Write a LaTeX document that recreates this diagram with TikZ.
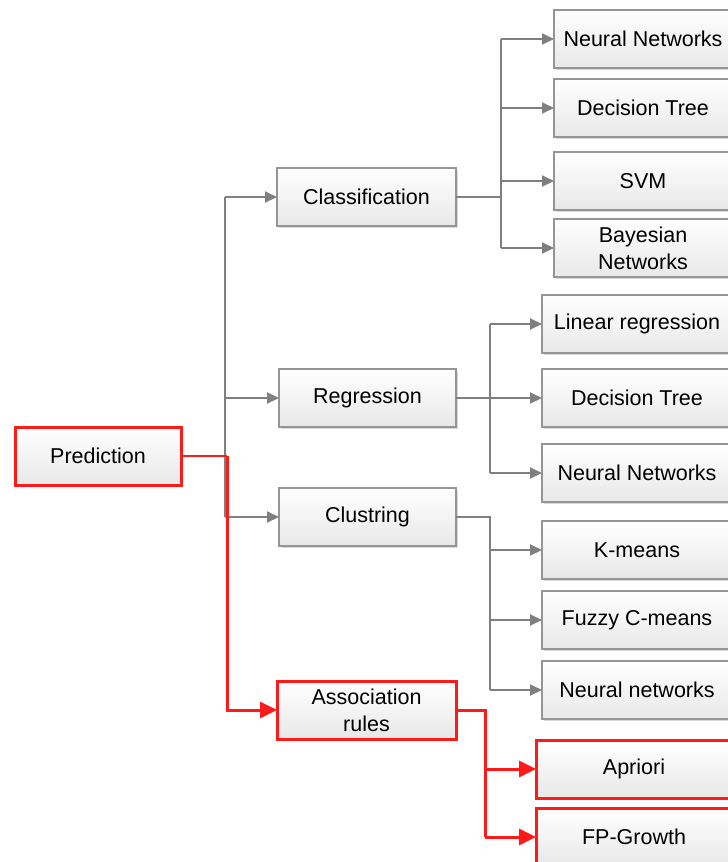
\documentclass[tikz,border=0pt]{standalone}
\usepackage{fontspec}
\setmainfont{Liberation Sans}
\usetikzlibrary{arrows.meta,shadows}
\definecolor{bordergray}{HTML}{959595}
\definecolor{linegray}{HTML}{7F7F7F}
\definecolor{myred}{HTML}{FF1A1A}
\begin{document}
\begin{tikzpicture}[x=1pt,y=-1pt,
  box/.style={draw=bordergray, line width=2pt, top color=white, bottom color=black!9,
    anchor=north west, outer sep=0pt, minimum height=58pt, inner sep=2pt, align=center,
    font=\fontsize{21.5}{27}\selectfont,
    drop shadow={shadow xshift=2pt, shadow yshift=-2pt, fill=black!25, opacity=0.6}},
  redbox/.style={box, draw=myred, line width=3pt},
  gline/.style={draw=linegray, line width=2pt},
  garrow/.style={gline, -{Triangle[length=12pt,width=11pt]}},
  rline/.style={draw=myred, line width=3pt},
  rarrow/.style={rline, -{Triangle[length=17pt,width=16pt]}}]
\useasboundingbox (0,0) rectangle (728,862);
\clip (0,0) rectangle (728,862);

% level 0
\node[redbox, minimum width=166pt] (pred) at (15,427) {Prediction};
% level 1
\node[box, minimum width=179pt] (cls) at (277,168) {Classification};
\node[box, minimum width=177pt] (reg) at (279,369) {Regression};
\node[box, minimum width=177pt] (clu) at (279,488) {Clustring};
\node[redbox, minimum width=179pt] (asr) at (277,681) {Association\\rules};
% classification children
\node[box, minimum width=178pt] (c1) at (554,10) {Neural Networks};
\node[box, minimum width=178pt] (c2) at (554,79) {Decision Tree};
\node[box, minimum width=178pt] (c3) at (554,152) {SVM};
\node[box, minimum width=178pt] (c4) at (554,219) {Bayesian\\Networks};
% regression children
\node[box, minimum width=190pt] (r1) at (542,295) {Linear regression};
\node[box, minimum width=190pt] (r2) at (542,369) {Decision Tree};
\node[box, minimum width=190pt] (r3) at (542,444) {Neural Networks};
% clustering children
\node[box, minimum width=190pt] (k1) at (542,521) {K-means};
\node[box, minimum width=190pt] (k2) at (542,591) {Fuzzy C-means};
\node[box, minimum width=190pt] (k3) at (542,661) {Neural networks};
% association children
\node[redbox, minimum width=196pt] (a1) at (536,740) {Apriori};
\node[redbox, minimum width=196pt] (a2) at (536,808) {FP-Growth};

% trunk from prediction
\coordinate (tj) at (225,456);
\draw[gline] (pred.east) -- (tj);
\draw[gline] (225,197) -- (225,517);
\draw[garrow] (225,197) -- (cls.west);
\draw[garrow] (225,398) -- (reg.west);
\draw[garrow] (225,517) -- (clu.west);
\draw[draw=myred, line width=1.2pt] (pred.east) -- (227,456);
\draw[rarrow] (227,456) |- (asr.west);

% classification branch
\coordinate (cj) at (501,197);
\draw[gline] (cls.east) -- (cj);
\draw[gline] (501,39) -- (501,248);
\draw[garrow] (501,39) -- (c1.west);
\draw[garrow] (501,108) -- (c2.west);
\draw[garrow] (501,181) -- (c3.west);
\draw[garrow] (501,248) -- (c4.west);

% regression branch
\coordinate (rj) at (490,398);
\draw[gline] (reg.east) -- (rj);
\draw[gline] (490,324) -- (490,473);
\draw[garrow] (490,324) -- (r1.west);
\draw[garrow] (rj) -- (r2.west);
\draw[garrow] (490,473) -- (r3.west);

% clustering branch
\coordinate (kj) at (490,517);
\draw[gline] (clu.east) -- (kj) -- (490,690);
\draw[garrow] (490,550) -- (k1.west);
\draw[garrow] (490,620) -- (k2.west);
\draw[garrow] (490,690) -- (k3.west);

% association branch
\coordinate (aj) at (485,710);
\draw[rline] (asr.east) -- (aj) -- (485,837);
\draw[rarrow] (485,769) -- (a1.west);
\draw[rarrow] (485,837) -- (a2.west);
\end{tikzpicture}
\end{document}
